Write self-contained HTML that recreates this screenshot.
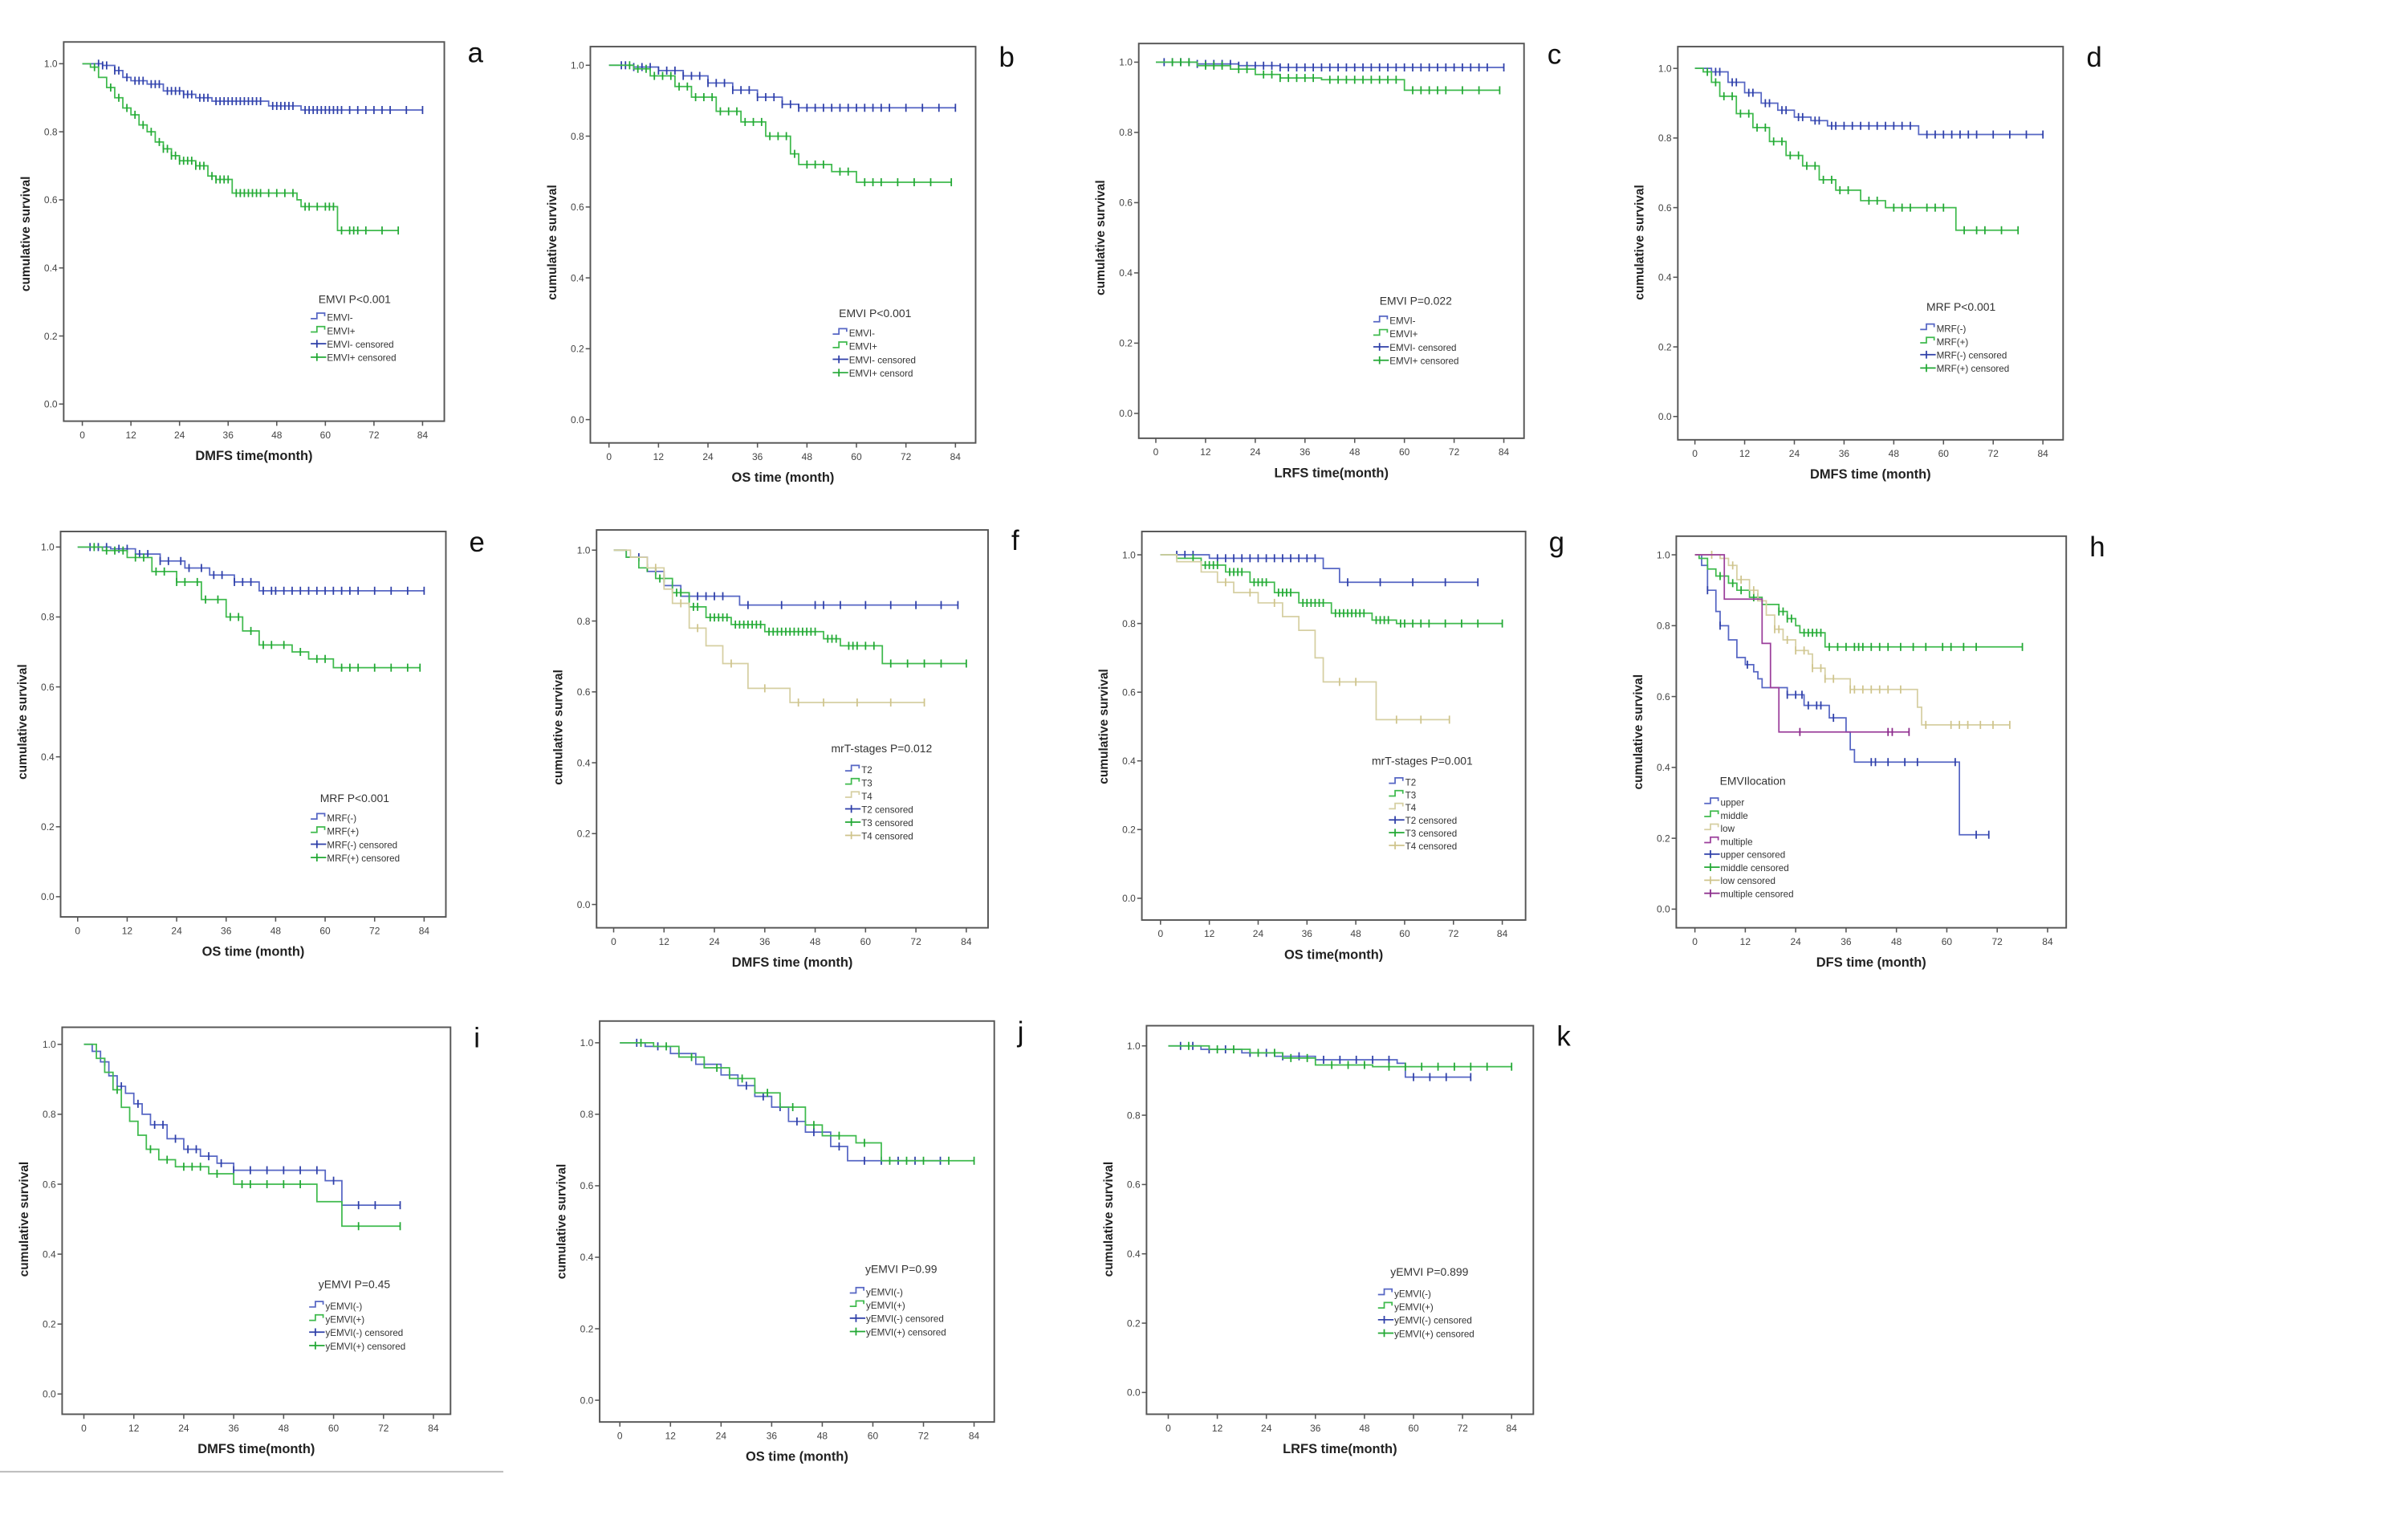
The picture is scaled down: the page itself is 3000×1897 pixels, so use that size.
<!DOCTYPE html>
<html><head><meta charset="utf-8"><style>
html,body{margin:0;padding:0;background:#fff}
svg{display:block}
text{font-family:"Liberation Sans",Arial,sans-serif}
</style></head><body>
<svg id="fig" xmlns="http://www.w3.org/2000/svg" width="3000" height="1897" viewBox="0 0 1550 980" preserveAspectRatio="none">
<rect width="1550" height="980" fill="#fff"/>
<line x1="0" y1="947" x2="324" y2="947" stroke="#bbb" stroke-width="1"/>
</svg>
<script>
// ---- data (event times, survival after event, censor times, end time) ----
const aBT=[5,8,10,12,16,20,25,28,32,46,54], aBS=[0.995,0.98,0.96,0.95,0.94,0.92,0.91,0.90,0.89,0.876,0.864], aBC=[4,5,6,8,9,11,13,14,15,17,18,19,21,22,23,24,25,26,27,29,30,31,33,34,35,36,37,38,39,40,41,42,43,44,47,48,49,50,51,52,55,56,57,58,59,60,61,62,63,64,66,68,70,72,74,76,80,84], aBE=84;
const aGT=[2,4,6,8,10,12,14,16,18,20,22,24,28,31,33,37,53,54,63], aGS=[0.99,0.96,0.93,0.90,0.87,0.85,0.82,0.80,0.77,0.75,0.73,0.715,0.70,0.67,0.66,0.62,0.60,0.58,0.51], aGC=[3,7,9,11,13,15,17,19,20,21,22,23,24,25,26,27,28,29,30,32,33,34,35,36,38,39,40,41,42,43,44,46,48,50,52,55,56,58,60,61,62,64,66,67,68,70,74,78], aGE=78;
const bBT=[6,12,18,24,30,36,42,46], bBS=[0.995,0.985,0.97,0.95,0.93,0.91,0.89,0.88], bBC=[3,4,6,8,10,12,14,16,18,20,22,24,26,28,30,32,34,36,38,40,42,44,46,48,50,52,54,56,58,60,62,64,66,68,72,76,80,84], bBE=84;
const bGT=[6,10,16,20,26,32,38,44,46,54,60], bGS=[0.99,0.97,0.94,0.91,0.87,0.84,0.80,0.75,0.72,0.70,0.67], bGC=[5,7,9,11,13,15,17,19,21,23,25,27,29,31,33,35,37,39,41,43,45,48,50,52,56,58,62,64,66,70,74,78,83], bGE=83;
const cBT=[10,20,30], cBS=[0.995,0.99,0.985], cBC=[2,4,6,8,10,12,14,16,18,20,22,24,26,28,30,32,34,36,38,40,42,44,46,48,50,52,54,56,58,60,62,64,66,68,70,72,74,76,78,80,84], cBE=84;
const cGT=[10,18,24,30,40,60], cGS=[0.99,0.98,0.965,0.955,0.95,0.92], cGC=[4,6,8,12,14,16,20,22,26,28,30,32,34,36,38,42,44,46,48,50,52,54,56,58,62,64,66,68,70,74,78,83], cGE=83;
const dBT=[4,8,12,16,20,24,28,32,54], dBS=[0.99,0.96,0.93,0.90,0.88,0.86,0.85,0.835,0.81], dBC=[5,6,9,10,13,14,17,18,21,22,25,26,29,30,33,34,36,38,40,42,44,46,48,50,52,56,58,60,62,64,66,68,72,76,80,84], dBE=84;
const dGT=[2,4,6,10,14,18,22,26,30,34,40,46,63], dGS=[0.99,0.96,0.92,0.87,0.83,0.79,0.75,0.72,0.68,0.65,0.62,0.60,0.535], dGC=[3,5,7,9,11,13,15,17,19,21,23,25,27,29,31,33,35,37,42,44,48,50,52,56,58,60,65,68,70,74,78], dGE=78;
const eBT=[8,14,20,26,32,38,44], eBS=[0.995,0.98,0.96,0.94,0.92,0.90,0.875], eBC=[3,5,7,10,12,15,17,20,22,25,27,30,33,35,38,40,42,45,47,48,50,52,54,56,58,60,62,64,66,68,72,76,80,84], eBE=84;
const eGT=[6,12,18,24,30,36,40,44,52,56,62], eGS=[0.99,0.97,0.93,0.90,0.85,0.80,0.76,0.72,0.70,0.68,0.655], eGC=[4,7,9,11,14,16,19,21,24,26,29,31,34,37,39,42,45,47,50,54,58,60,64,66,68,72,76,80,83], eGE=83;
const fBT=[3,8,12,16,30], fBS=[0.98,0.94,0.90,0.87,0.845], fBC=[6,10,14,18,20,22,24,26,32,40,48,50,54,60,66,72,78,82], fBE=82;
const fGT=[3,6,10,14,18,22,28,36,50,54,64], fGS=[0.98,0.95,0.92,0.88,0.84,0.81,0.79,0.77,0.75,0.73,0.68], fGC=[8,11,12,15,16,19,20,23,24,25,26,27,29,30,31,32,33,34,35,37,38,39,40,41,42,43,44,45,46,47,48,51,52,53,56,57,58,60,62,66,70,74,78,84], fGE=84;
const fYT=[4,8,12,14,18,22,26,32,42], fYS=[0.98,0.95,0.89,0.85,0.78,0.73,0.68,0.61,0.57], fYC=[10,16,20,28,36,44,50,58,66,74], fYE=74;
const gBT=[12,40,44], gBS=[0.99,0.96,0.92], gBC=[4,6,8,14,16,18,20,22,24,26,28,30,32,34,36,38,46,54,62,70,78], gBE=78;
const gGT=[4,10,16,22,28,34,42,52,58], gGS=[0.99,0.97,0.95,0.92,0.89,0.86,0.83,0.81,0.80], gGC=[8,11,12,13,14,17,18,19,20,23,24,25,26,29,30,31,32,35,36,37,38,39,40,43,44,45,46,47,48,49,50,53,54,55,56,59,60,62,64,66,70,74,78,84], gGE=84;
const gYT=[4,10,14,18,24,30,34,38,40,53], gYS=[0.98,0.95,0.92,0.89,0.86,0.82,0.78,0.70,0.63,0.52], gYC=[16,22,28,44,48,58,64,71], gYE=71;
const hUT=[1.6,3,5,6,8,10,12,14,15,16,22,26,32,36,37,38,63], hUS=[0.97,0.90,0.84,0.80,0.76,0.71,0.69,0.67,0.65,0.625,0.605,0.575,0.54,0.50,0.45,0.415,0.21], hUC=[3,6,12.5,22,24,25.5,27,29,30,33,42,43,46,50,53,62,67,70], hUE=70;
const hMT=[1,3,5,8,10,13,16,20,22,24,25,31], hMS=[0.99,0.96,0.94,0.92,0.90,0.88,0.86,0.84,0.82,0.80,0.78,0.74], hMC=[6,9,11,14,15,20,21,22,23,26,27,28,29,30,32,34,36,38,39,40,42,44,46,49,52,55,59,61,64,67,78], hME=78;
const hLT=[6,8,10,13,15,17,19,21,24,27,28,31,37,53,54], hLS=[0.99,0.97,0.93,0.90,0.87,0.83,0.79,0.76,0.73,0.72,0.68,0.65,0.62,0.57,0.52], hLC=[4,9,11,14,19,20,22,24,26,28,30,31,33,37,38,40,42,44,46,49,55,61,63,65,68,71,75], hLE=75;
const hPT=[7,16,18,20], hPS=[0.875,0.75,0.625,0.50], hPC=[25,46,47,51], hPE=51;
const iBT=[2,4,6,8,10,12,14,16,20,24,28,32,36,58,62], iBS=[0.98,0.95,0.91,0.88,0.86,0.83,0.80,0.77,0.73,0.70,0.68,0.66,0.64,0.61,0.54], iBC=[5,9,13,17,19,22,25,27,30,33,36,40,44,48,52,56,60,66,70,76], iBE=76;
const iGT=[3,5,7,9,11,13,15,18,22,30,36,56,62], iGS=[0.96,0.92,0.87,0.82,0.78,0.74,0.70,0.67,0.65,0.63,0.60,0.55,0.48], iGC=[8,16,20,24,26,28,32,38,40,44,48,52,66,76], iGE=76;
const jBT=[6,12,18,24,28,32,36,40,44,50,54], jBS=[0.99,0.97,0.94,0.91,0.88,0.85,0.82,0.78,0.75,0.71,0.67], jBC=[4,9,14,20,26,30,34,38,42,46,52,58,62,66,70,76], jBE=76;
const jGT=[8,14,20,26,32,38,44,48,56,62], jGS=[0.99,0.96,0.93,0.90,0.86,0.82,0.77,0.74,0.72,0.67], jGC=[5,11,17,23,29,35,41,46,52,58,64,68,72,78,84], jGE=84;
const kBT=[8,18,26,36,56,58], kBS=[0.99,0.98,0.97,0.96,0.95,0.91], kBC=[3,6,10,14,20,24,28,32,38,42,46,50,54,60,64,68,74], kBE=74;
const kGT=[10,20,28,36,50], kGS=[0.99,0.98,0.965,0.945,0.94], kGC=[5,12,16,22,26,30,34,40,44,48,54,58,62,66,70,74,78,84], kGE=84;
const xTicks=[0,12,24,36,48,60,72,84];
const yTicks=[0,0.2,0.4,0.6,0.8,1.0];

const BLUE='#5666c4', BLUEC='#2e3fa8', GREEN='#3fba4d', GREENC='#22a834', TAN='#d6cfa2', TANC='#cfc48c', PURP='#9b3f9b', PURPC='#8a2a8a';
const svg=document.getElementById('fig');
const NS='http://www.w3.org/2000/svg';
function mk(tag,attrs,parent){const e=document.createElementNS(NS,tag);for(const k in attrs)e.setAttribute(k,attrs[k]);(parent||svg).appendChild(e);return e;}
function txt(s,attrs,parent){const e=mk('text',attrs,parent);e.textContent=s;return e;}

function panel(id,g,series,legend,xtitle){
  const grp=mk('g',{});
  
  
  const X=t=>g.x0+(g.x84-g.x0)*t/84;
  const Y=v=>g.y0+(g.y1-g.y0)*v;
  const fr=mk('rect',{x:g.l,y:g.t,width:g.r-g.l,height:g.b-g.t,fill:'none',stroke:'#555','stroke-width':1},grp);
  
  
  xTicks.forEach(t=>{
    mk('line',{x1:X(t),y1:g.b,x2:X(t),y2:g.b+3,stroke:'#555','stroke-width':0.8},grp);
    const tl=txt(String(t),{x:X(t),y:g.b+11,'font-size':6.2,'text-anchor':'middle',fill:'#444'},grp);
    
    
  });
  yTicks.forEach(v=>{
    mk('line',{x1:g.l-3,y1:Y(v),x2:g.l,y2:Y(v),stroke:'#555','stroke-width':0.8},grp);
    const tl=txt(v.toFixed(1),{x:g.l-4,y:Y(v)+2.2,'font-size':6.2,'text-anchor':'end',fill:'#444'},grp);
    
    
  });
  const xt=txt(xtitle,{x:(g.l+g.r)/2,y:g.b+25,'font-size':8.5,'font-weight':'bold','text-anchor':'middle',fill:'#222'},grp);
  
  
  const yc=(g.y1+g.y0)/2, yx=g.l-22;
  const yt=txt('cumulative survival',{x:yx,y:yc,'font-size':8,'font-weight':'bold','text-anchor':'middle',fill:'#222',transform:'rotate(-90 '+yx+' '+yc+')'},grp);
  
  
  const lt=txt(id,{x:g.r+15,y:g.t+13,'font-size':18,fill:'#111'},grp);
  
  
  series.forEach(s=>{
    let d='M'+X(0)+' '+Y(1);
    s.T.forEach((t,i)=>{d+=' H'+X(t).toFixed(2)+' V'+Y(s.S[i]).toFixed(2);});
    d+=' H'+X(s.E).toFixed(2);
    const p=mk('path',{d:d,fill:'none',stroke:s.col,'stroke-width':0.9},grp);
    
    
    s.C.forEach(c=>{
      let v=1;s.T.forEach((t,i)=>{if(t<=c)v=s.S[i];});
      const m=mk('line',{x1:X(c),y1:Y(v)-2.6,x2:X(c),y2:Y(v)+2.6,stroke:s.cc,'stroke-width':0.9},grp);
      
      
    });
  });
  const lg=mk('g',{},grp);
  
  
  txt(legend.title,{x:legend.tx,y:legend.ty,'font-size':7.2,fill:'#333'},lg);
  legend.items.forEach((it,i)=>{
    const y=legend.iy+i*legend.dy, x=legend.ix;
    if(it.c){mk('path',{d:'M'+x+' '+(y-1)+' H'+(x+10)+' M'+(x+4)+' '+(y-3.5)+' V'+(y+1.5),stroke:it.col,'stroke-width':0.9,fill:'none'},lg);}
    else{mk('path',{d:'M'+x+' '+(y)+' H'+(x+4)+' V'+(y-3.5)+' H'+(x+9)+' V'+(y-1.5),stroke:it.col,'stroke-width':0.9,fill:'none'},lg);}
    const e=txt(it.t,{x:x+10.5,y:y+1.5,'font-size':6,fill:'#333'},lg);
    
    
  });
}
function two(a,b,ca,cb){return [{t:a,col:BLUE},{t:b,col:GREEN},{t:a+ca,col:BLUEC,c:1},{t:b+cb,col:GREENC,c:1}];}
function S(name,T,Sv,C,E,col,cc){return {name:name,T:T,S:Sv,C:C,E:E,col:col,cc:cc};}

panel('a',{l:41,t:27,r:286,b:271,x0:53,x84:272,y1:41,y0:260},
 [S('emvi-neg',aBT,aBS,aBC,aBE,BLUE,BLUEC),S('emvi-pos',aGT,aGS,aGC,aGE,GREEN,GREENC)],
 {title:'EMVI P<0.001',tx:205,ty:195,ix:200,iy:205,dy:8.6,items:two('EMVI-','EMVI+',' censored',' censored')},'DMFS time(month)');
panel('b',{l:380,t:30,r:628,b:285,x0:392,x84:615,y1:42,y0:270},
 [S('emvi-neg',bBT,bBS,bBC,bBE,BLUE,BLUEC),S('emvi-pos',bGT,bGS,bGC,bGE,GREEN,GREENC)],
 {title:'EMVI P<0.001',tx:540,ty:204,ix:536,iy:215,dy:8.6,items:two('EMVI-','EMVI+',' censored',' censord')},'OS time (month)');
panel('c',{l:733,t:28,r:981,b:282,x0:744,x84:968,y1:40,y0:266},
 [S('emvi-neg',cBT,cBS,cBC,cBE,BLUE,BLUEC),S('emvi-pos',cGT,cGS,cGC,cGE,GREEN,GREENC)],
 {title:'EMVI P=0.022',tx:888,ty:196,ix:884,iy:207,dy:8.6,items:two('EMVI-','EMVI+',' censored',' censored')},'LRFS time(month)');
panel('d',{l:1080,t:30,r:1328,b:283,x0:1091,x84:1315,y1:44,y0:268},
 [S('mrf-neg',dBT,dBS,dBC,dBE,BLUE,BLUEC),S('mrf-pos',dGT,dGS,dGC,dGE,GREEN,GREENC)],
 {title:'MRF P<0.001',tx:1240,ty:200,ix:1236,iy:212,dy:8.6,items:two('MRF(-)','MRF(+)',' censored',' censored')},'DMFS time (month)');
panel('e',{l:39,t:342,r:287,b:590,x0:50,x84:273,y1:352,y0:577},
 [S('mrf-neg',eBT,eBS,eBC,eBE,BLUE,BLUEC),S('mrf-pos',eGT,eGS,eGC,eGE,GREEN,GREENC)],
 {title:'MRF P<0.001',tx:206,ty:516,ix:200,iy:527,dy:8.6,items:two('MRF(-)','MRF(+)',' censored',' censored')},'OS time (month)');
const tItems=[{t:'T2',col:BLUE},{t:'T3',col:GREEN},{t:'T4',col:TAN},{t:'T2 censored',col:BLUEC,c:1},{t:'T3 censored',col:GREENC,c:1},{t:'T4 censored',col:TANC,c:1}];
panel('f',{l:384,t:341,r:636,b:597,x0:395,x84:622,y1:354,y0:582},
 [S('t2',fBT,fBS,fBC,fBE,BLUE,BLUEC),S('t3',fGT,fGS,fGC,fGE,GREEN,GREENC),S('t4',fYT,fYS,fYC,fYE,TAN,TANC)],
 {title:'mrT-stages P=0.012',tx:535,ty:484,ix:544,iy:496,dy:8.5,items:tItems},'DMFS time (month)');
panel('g',{l:735,t:342,r:982,b:592,x0:747,x84:967,y1:357,y0:578},
 [S('t2',gBT,gBS,gBC,gBE,BLUE,BLUEC),S('t3',gGT,gGS,gGC,gGE,GREEN,GREENC),S('t4',gYT,gYS,gYC,gYE,TAN,TANC)],
 {title:'mrT-stages P=0.001',tx:883,ty:492,ix:894,iy:504,dy:8.2,items:tItems},'OS time(month)');
panel('h',{l:1079,t:345,r:1330,b:597,x0:1091,x84:1318,y1:357,y0:585},
 [S('upper',hUT,hUS,hUC,hUE,BLUE,BLUEC),S('middle',hMT,hMS,hMC,hME,GREEN,GREENC),S('low',hLT,hLS,hLC,hLE,TAN,TANC),S('multiple',hPT,hPS,hPC,hPE,PURP,PURPC)],
 {title:'EMVIlocation',tx:1107,ty:505,ix:1097,iy:517,dy:8.4,items:[{t:'upper',col:BLUE},{t:'middle',col:GREEN},{t:'low',col:TAN},{t:'multiple',col:PURP},{t:'upper censored',col:BLUEC,c:1},{t:'middle censored',col:GREENC,c:1},{t:'low censored',col:TANC,c:1},{t:'multiple censored',col:PURPC,c:1}]},'DFS time (month)');
panel('i',{l:40,t:661,r:290,b:910,x0:54,x84:279,y1:672,y0:897},
 [S('yemvi-neg',iBT,iBS,iBC,iBE,BLUE,BLUEC),S('yemvi-pos',iGT,iGS,iGC,iGE,GREEN,GREENC)],
 {title:'yEMVI P=0.45',tx:205,ty:829,ix:199,iy:841,dy:8.6,items:two('yEMVI(-)','yEMVI(+)',' censored',' censored')},'DMFS time(month)');
panel('j',{l:386,t:657,r:640,b:915,x0:399,x84:627,y1:671,y0:901},
 [S('yemvi-neg',jBT,jBS,jBC,jBE,BLUE,BLUEC),S('yemvi-pos',jGT,jGS,jGC,jGE,GREEN,GREENC)],
 {title:'yEMVI P=0.99',tx:557,ty:819,ix:547,iy:832,dy:8.6,items:two('yEMVI(-)','yEMVI(+)',' censored',' censored')},'OS time (month)');
panel('k',{l:738,t:660,r:987,b:910,x0:752,x84:973,y1:673,y0:896},
 [S('yemvi-neg',kBT,kBS,kBC,kBE,BLUE,BLUEC),S('yemvi-pos',kGT,kGS,kGC,kGE,GREEN,GREENC)],
 {title:'yEMVI P=0.899',tx:895,ty:821,ix:887,iy:833,dy:8.6,items:two('yEMVI(-)','yEMVI(+)',' censored',' censored')},'LRFS time(month)');
</script>
</body></html>
